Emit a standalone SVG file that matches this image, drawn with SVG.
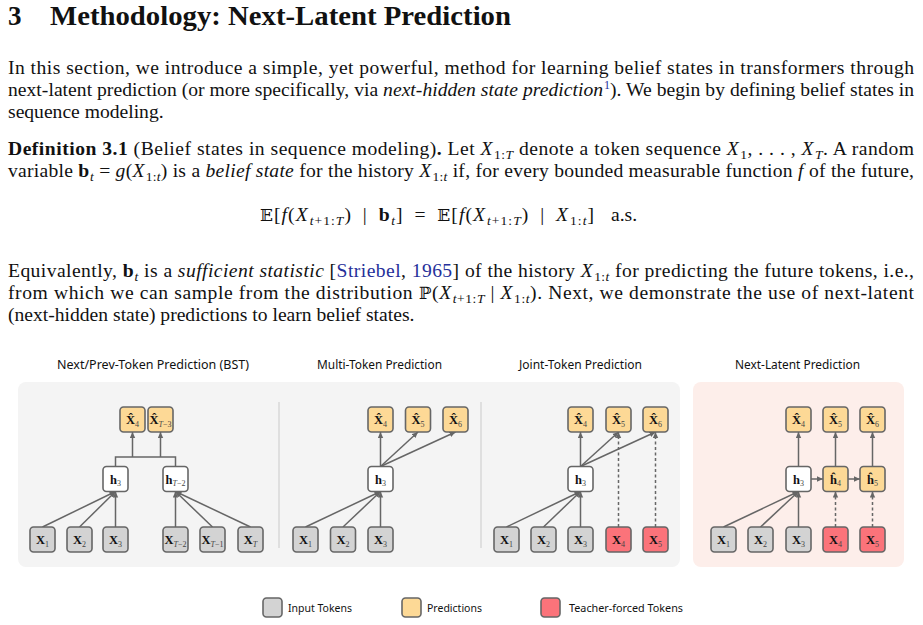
<svg xmlns="http://www.w3.org/2000/svg" width="923" height="625" viewBox="0 0 923 625">
<defs>
<marker id="ah" viewBox="0 0 10 10" refX="10" refY="5" markerWidth="6" markerHeight="6" markerUnits="userSpaceOnUse" orient="auto"><path d="M0,0.5 L10,5 L0,9.5 z" fill="#666"/></marker>
<style>
.body{font-family:"Liberation Serif","Times New Roman",serif;font-size:19.6px;fill:#111}
.head{font-family:"Liberation Serif","Times New Roman",serif;font-size:27px;font-weight:bold;fill:#111}
.it{font-style:italic}
.bf{font-weight:bold}
.cite{fill:#25309a}
.ttl{font-family:"Noto Sans","DejaVu Sans",sans-serif;font-size:12px;fill:#111;text-anchor:middle}
.lg{font-family:"Noto Sans","DejaVu Sans",sans-serif;font-size:11.5px;fill:#111}
.nd{stroke:#666;stroke-width:1.6}
.in{fill:#d3d3d3}
.pr{fill:#fdd996}
.tf{fill:#fb737a}
.hn{fill:#ffffff}
.lb{font-family:"Liberation Serif","Times New Roman",serif;font-size:12.5px;font-weight:bold;fill:#111;text-anchor:middle}
.sb{font-size:8px;font-weight:normal;fill:#444}
.ar{stroke:#666;stroke-width:1.5;fill:none;marker-end:url(#ah)}
.ln{stroke:#666;stroke-width:1.5;fill:none}
.da{stroke-dasharray:3,2.5}
.bb{font-family:"DejaVu Serif","DejaVu Sans",serif;font-size:17px}
</style>
</defs>

<!-- Heading and text -->
<g id="text">
<text class="head" x="8" y="25">3</text>
<text class="head" x="50" y="25" textLength="461" lengthAdjust="spacingAndGlyphs">Methodology: Next-Latent Prediction</text>

<text class="body" x="8" y="74" textLength="906" lengthAdjust="spacing">In this section, we introduce a simple, yet powerful, method for learning belief states in transformers through</text>
<text class="body" x="8" y="96" textLength="906" lengthAdjust="spacing">next-latent prediction (or more specifically, via <tspan class="it">next-hidden state prediction</tspan><tspan class="cite" font-size="12" dx="1" dy="-7">1</tspan><tspan dy="7">). We begin by defining belief states in</tspan></text>
<text class="body" x="8" y="118">sequence modeling.</text>

<text class="body" x="8" y="155" textLength="906" lengthAdjust="spacing"><tspan class="bf">Definition 3.1</tspan> (Belief states in sequence modeling)<tspan class="bf">.</tspan> Let <tspan class="it">X</tspan><tspan font-size="13.5" dx="1" dy="4">1:<tspan class="it">T</tspan></tspan><tspan dy="-4"> denote a token sequence </tspan><tspan class="it">X</tspan><tspan font-size="13.5" dx="1" dy="4">1</tspan><tspan dy="-4">, . . . , </tspan><tspan class="it">X</tspan><tspan class="it" font-size="13.5" dx="1" dy="4">T</tspan><tspan dy="-4">. A random</tspan></text>
<text class="body" x="8" y="177" textLength="906" lengthAdjust="spacing">variable <tspan class="bf">b</tspan><tspan class="it" font-size="13.5" dx="0.5" dy="4">t</tspan><tspan dy="-4"> = </tspan><tspan class="it">g</tspan>(<tspan class="it">X</tspan><tspan font-size="13.5" dx="1" dy="4">1:<tspan class="it">t</tspan></tspan><tspan dy="-4">) is a </tspan><tspan class="it">belief state</tspan> for the history <tspan class="it">X</tspan><tspan font-size="13.5" dx="1" dy="4">1:<tspan class="it">t</tspan></tspan><tspan dy="-4"> if, for every bounded measurable function </tspan><tspan class="it">f</tspan> of the future,</text>

<text class="body" x="260" y="221" textLength="334" lengthAdjust="spacing"><tspan class="bb">𝔼</tspan>[<tspan class="it">f</tspan>(<tspan class="it">X</tspan><tspan font-size="13.5" dx="1" dy="4"><tspan class="it">t</tspan>+1:<tspan class="it">T</tspan></tspan><tspan dy="-4">)&#8194;|&#8194;</tspan><tspan class="bf">b</tspan><tspan class="it" font-size="13.5" dx="0.5" dy="4">t</tspan><tspan dy="-4">]&#8194;=&#8194;</tspan><tspan class="bb">𝔼</tspan>[<tspan class="it">f</tspan>(<tspan class="it">X</tspan><tspan font-size="13.5" dx="1" dy="4"><tspan class="it">t</tspan>+1:<tspan class="it">T</tspan></tspan><tspan dy="-4">)&#8194;|&#8194;</tspan><tspan class="it">X</tspan><tspan font-size="13.5" dx="1" dy="4">1:<tspan class="it">t</tspan></tspan><tspan dy="-4">]</tspan></text>
<text class="body" x="611" y="221">a.s.</text>

<text class="body" x="8" y="277" textLength="906" lengthAdjust="spacing">Equivalently, <tspan class="bf">b</tspan><tspan class="it" font-size="13.5" dx="0.5" dy="4">t</tspan><tspan dy="-4"> is a </tspan><tspan class="it">sufficient statistic</tspan> [<tspan class="cite">Striebel</tspan>, <tspan class="cite">1965</tspan>] of the history <tspan class="it">X</tspan><tspan font-size="13.5" dx="1" dy="4">1:<tspan class="it">t</tspan></tspan><tspan dy="-4"> for predicting the future tokens, i.e.,</tspan></text>
<text class="body" x="8" y="299" textLength="906" lengthAdjust="spacing">from which we can sample from the distribution <tspan class="bb">ℙ</tspan>(<tspan class="it">X</tspan><tspan font-size="13.5" dx="1" dy="4"><tspan class="it">t</tspan>+1:<tspan class="it">T</tspan></tspan><tspan dy="-4"> | </tspan><tspan class="it">X</tspan><tspan font-size="13.5" dx="1" dy="4">1:<tspan class="it">t</tspan></tspan><tspan dy="-4">). Next, we demonstrate the use of next-latent</tspan></text>
<text class="body" x="8" y="321">(next-hidden state) predictions to learn belief states.</text>
</g>

<!-- Panels -->
<g id="panels">
<rect x="18" y="382" width="662" height="185" rx="8" fill="#f4f4f4"/>
<rect x="693" y="382" width="211" height="185" rx="8" fill="#fdeeea"/>
<line x1="279" y1="402" x2="279" y2="548" stroke="#d9d9d9" stroke-width="1.5"/>
<line x1="481" y1="402" x2="481" y2="548" stroke="#d9d9d9" stroke-width="1.5"/>
<text class="ttl" x="153" y="369" textLength="192" lengthAdjust="spacingAndGlyphs">Next/Prev-Token Prediction (BST)</text>
<text class="ttl" x="379.5" y="369" textLength="125" lengthAdjust="spacingAndGlyphs">Multi-Token Prediction</text>
<text class="ttl" x="580.5" y="369" textLength="123" lengthAdjust="spacingAndGlyphs">Joint-Token Prediction</text>
<text class="ttl" x="797.5" y="369" textLength="125" lengthAdjust="spacingAndGlyphs">Next-Latent Prediction</text>
</g>

<!-- Connectors -->
<g id="connectors">
<line class="ar" x1="42.5" y1="527" x2="115.5" y2="491.5"/>
<line class="ar" x1="79.5" y1="527" x2="115.5" y2="491.5"/>
<line class="ar" x1="115.5" y1="527" x2="115.5" y2="491.5"/>
<line class="ar" x1="175.5" y1="527" x2="175.5" y2="491.5"/>
<line class="ar" x1="212.5" y1="527" x2="175.5" y2="491.5"/>
<line class="ar" x1="250.5" y1="527" x2="175.5" y2="491.5"/>
<polyline class="ln" points="115.5,466.5 115.5,457 175.5,457 175.5,466.5"/>
<line class="ar" x1="132.5" y1="457" x2="132.5" y2="432"/>
<line class="ar" x1="160.5" y1="457" x2="160.5" y2="432"/>

<line class="ar" x1="305.5" y1="527" x2="380.5" y2="491.5"/>
<line class="ar" x1="343" y1="527" x2="380.5" y2="491.5"/>
<line class="ar" x1="380.5" y1="527" x2="380.5" y2="491.5"/>
<line class="ar" x1="380.5" y1="466.5" x2="380.5" y2="432"/>
<line class="ar" x1="380.5" y1="466.5" x2="418" y2="432"/>
<line class="ar" x1="380.5" y1="466.5" x2="455.5" y2="432"/>

<line class="ar" x1="506.5" y1="527" x2="580.5" y2="491.5"/>
<line class="ar" x1="543.5" y1="527" x2="580.5" y2="491.5"/>
<line class="ar" x1="580.5" y1="527" x2="580.5" y2="491.5"/>
<line class="ar" x1="580.5" y1="466.5" x2="580.5" y2="432"/>
<line class="ar" x1="580.5" y1="466.5" x2="618.5" y2="432"/>
<line class="ar" x1="580.5" y1="466.5" x2="655.5" y2="432"/>
<line class="ar da" x1="618.5" y1="527" x2="618.5" y2="432"/>
<line class="ar da" x1="655.5" y1="527" x2="655.5" y2="432"/>

<line class="ar" x1="723.5" y1="527" x2="798.5" y2="491.5"/>
<line class="ar" x1="760.5" y1="527" x2="798.5" y2="491.5"/>
<line class="ar" x1="798.5" y1="527" x2="798.5" y2="491.5"/>
<line class="ar" x1="798.5" y1="466.5" x2="798.5" y2="432"/>
<line class="ar" x1="835.5" y1="466.5" x2="835.5" y2="432"/>
<line class="ar" x1="872.5" y1="466.5" x2="872.5" y2="432"/>
<line class="ar" x1="811" y1="479" x2="823" y2="479"/>
<line class="ar" x1="848" y1="479" x2="860" y2="479"/>
<line class="ar da" x1="835.5" y1="527" x2="835.5" y2="491.5"/>
<line class="ar da" x1="872.5" y1="527" x2="872.5" y2="491.5"/>
</g>

<!-- Panel 1 nodes -->
<g id="p1-xh4"><rect class="nd pr" x="120" y="407" width="25" height="25" rx="3.5"/><text class="lb" x="132.5" y="424">X&#x302;<tspan class="sb" dy="2.5">4</tspan></text></g>
<g id="p1-xhT3"><rect class="nd pr" x="148" y="407" width="25" height="25" rx="3.5"/><text class="lb" x="160.5" y="424">X&#x302;<tspan class="sb it" dy="2.5">T</tspan><tspan class="sb">−3</tspan></text></g>
<g id="p1-h3"><rect class="nd hn" x="103" y="466.5" width="25" height="25" rx="3.5"/><text class="lb" x="115.5" y="483.5">h<tspan class="sb" dy="2.5">3</tspan></text></g>
<g id="p1-hT2"><rect class="nd hn" x="163" y="466.5" width="25" height="25" rx="3.5"/><text class="lb" x="175.5" y="483.5">h<tspan class="sb it" dy="2.5">T</tspan><tspan class="sb">−2</tspan></text></g>
<g id="p1-x1"><rect class="nd in" x="30" y="527" width="25" height="25" rx="3.5"/><text class="lb" x="42.5" y="544">X<tspan class="sb" dy="2.5">1</tspan></text></g>
<g id="p1-x2"><rect class="nd in" x="67" y="527" width="25" height="25" rx="3.5"/><text class="lb" x="79.5" y="544">X<tspan class="sb" dy="2.5">2</tspan></text></g>
<g id="p1-x3"><rect class="nd in" x="103" y="527" width="25" height="25" rx="3.5"/><text class="lb" x="115.5" y="544">X<tspan class="sb" dy="2.5">3</tspan></text></g>
<g id="p1-xT2"><rect class="nd in" x="163" y="527" width="25" height="25" rx="3.5"/><text class="lb" x="175.5" y="544">X<tspan class="sb it" dy="2.5">T</tspan><tspan class="sb">−2</tspan></text></g>
<g id="p1-xT1"><rect class="nd in" x="200" y="527" width="25" height="25" rx="3.5"/><text class="lb" x="212.5" y="544">X<tspan class="sb it" dy="2.5">T</tspan><tspan class="sb">−1</tspan></text></g>
<g id="p1-xT"><rect class="nd in" x="238" y="527" width="25" height="25" rx="3.5"/><text class="lb" x="250.5" y="544">X<tspan class="sb it" dy="2.5">T</tspan></text></g>

<!-- Panel 2 nodes -->
<g id="p2-xh4"><rect class="nd pr" x="368" y="407" width="25" height="25" rx="3.5"/><text class="lb" x="380.5" y="424">X&#x302;<tspan class="sb" dy="2.5">4</tspan></text></g>
<g id="p2-xh5"><rect class="nd pr" x="405.5" y="407" width="25" height="25" rx="3.5"/><text class="lb" x="418" y="424">X&#x302;<tspan class="sb" dy="2.5">5</tspan></text></g>
<g id="p2-xh6"><rect class="nd pr" x="443" y="407" width="25" height="25" rx="3.5"/><text class="lb" x="455.5" y="424">X&#x302;<tspan class="sb" dy="2.5">6</tspan></text></g>
<g id="p2-h3"><rect class="nd hn" x="368" y="466.5" width="25" height="25" rx="3.5"/><text class="lb" x="380.5" y="483.5">h<tspan class="sb" dy="2.5">3</tspan></text></g>
<g id="p2-x1"><rect class="nd in" x="293" y="527" width="25" height="25" rx="3.5"/><text class="lb" x="305.5" y="544">X<tspan class="sb" dy="2.5">1</tspan></text></g>
<g id="p2-x2"><rect class="nd in" x="330.5" y="527" width="25" height="25" rx="3.5"/><text class="lb" x="343" y="544">X<tspan class="sb" dy="2.5">2</tspan></text></g>
<g id="p2-x3"><rect class="nd in" x="368" y="527" width="25" height="25" rx="3.5"/><text class="lb" x="380.5" y="544">X<tspan class="sb" dy="2.5">3</tspan></text></g>

<!-- Panel 3 nodes -->
<g id="p3-xh4"><rect class="nd pr" x="568" y="407" width="25" height="25" rx="3.5"/><text class="lb" x="580.5" y="424">X&#x302;<tspan class="sb" dy="2.5">4</tspan></text></g>
<g id="p3-xh5"><rect class="nd pr" x="606" y="407" width="25" height="25" rx="3.5"/><text class="lb" x="618.5" y="424">X&#x302;<tspan class="sb" dy="2.5">5</tspan></text></g>
<g id="p3-xh6"><rect class="nd pr" x="643" y="407" width="25" height="25" rx="3.5"/><text class="lb" x="655.5" y="424">X&#x302;<tspan class="sb" dy="2.5">6</tspan></text></g>
<g id="p3-h3"><rect class="nd hn" x="568" y="466.5" width="25" height="25" rx="3.5"/><text class="lb" x="580.5" y="483.5">h<tspan class="sb" dy="2.5">3</tspan></text></g>
<g id="p3-x1"><rect class="nd in" x="494" y="527" width="25" height="25" rx="3.5"/><text class="lb" x="506.5" y="544">X<tspan class="sb" dy="2.5">1</tspan></text></g>
<g id="p3-x2"><rect class="nd in" x="531" y="527" width="25" height="25" rx="3.5"/><text class="lb" x="543.5" y="544">X<tspan class="sb" dy="2.5">2</tspan></text></g>
<g id="p3-x3"><rect class="nd in" x="568" y="527" width="25" height="25" rx="3.5"/><text class="lb" x="580.5" y="544">X<tspan class="sb" dy="2.5">3</tspan></text></g>
<g id="p3-x4"><rect class="nd tf" x="606" y="527" width="25" height="25" rx="3.5"/><text class="lb" x="618.5" y="544">X<tspan class="sb" dy="2.5">4</tspan></text></g>
<g id="p3-x5"><rect class="nd tf" x="643" y="527" width="25" height="25" rx="3.5"/><text class="lb" x="655.5" y="544">X<tspan class="sb" dy="2.5">5</tspan></text></g>

<!-- Panel 4 nodes -->
<g id="p4-xh4"><rect class="nd pr" x="786" y="407" width="25" height="25" rx="3.5"/><text class="lb" x="798.5" y="424">X&#x302;<tspan class="sb" dy="2.5">4</tspan></text></g>
<g id="p4-xh5"><rect class="nd pr" x="823" y="407" width="25" height="25" rx="3.5"/><text class="lb" x="835.5" y="424">X&#x302;<tspan class="sb" dy="2.5">5</tspan></text></g>
<g id="p4-xh6"><rect class="nd pr" x="860" y="407" width="25" height="25" rx="3.5"/><text class="lb" x="872.5" y="424">X&#x302;<tspan class="sb" dy="2.5">6</tspan></text></g>
<g id="p4-h3"><rect class="nd hn" x="786" y="466.5" width="25" height="25" rx="3.5"/><text class="lb" x="798.5" y="483.5">h<tspan class="sb" dy="2.5">3</tspan></text></g>
<g id="p4-hh4"><rect class="nd pr" x="823" y="466.5" width="25" height="25" rx="3.5"/><text class="lb" x="835.5" y="483.5">ĥ<tspan class="sb" dy="2.5">4</tspan></text></g>
<g id="p4-hh5"><rect class="nd pr" x="860" y="466.5" width="25" height="25" rx="3.5"/><text class="lb" x="872.5" y="483.5">ĥ<tspan class="sb" dy="2.5">5</tspan></text></g>
<g id="p4-x1"><rect class="nd in" x="711" y="527" width="25" height="25" rx="3.5"/><text class="lb" x="723.5" y="544">X<tspan class="sb" dy="2.5">1</tspan></text></g>
<g id="p4-x2"><rect class="nd in" x="748" y="527" width="25" height="25" rx="3.5"/><text class="lb" x="760.5" y="544">X<tspan class="sb" dy="2.5">2</tspan></text></g>
<g id="p4-x3"><rect class="nd in" x="786" y="527" width="25" height="25" rx="3.5"/><text class="lb" x="798.5" y="544">X<tspan class="sb" dy="2.5">3</tspan></text></g>
<g id="p4-x4"><rect class="nd tf" x="823" y="527" width="25" height="25" rx="3.5"/><text class="lb" x="835.5" y="544">X<tspan class="sb" dy="2.5">4</tspan></text></g>
<g id="p4-x5"><rect class="nd tf" x="860" y="527" width="25" height="25" rx="3.5"/><text class="lb" x="872.5" y="544">X<tspan class="sb" dy="2.5">5</tspan></text></g>

<!-- Legend -->
<g id="legend">
<rect class="nd in" x="263" y="598" width="19" height="19" rx="3.5"/>
<text class="lg" x="288" y="612" textLength="64" lengthAdjust="spacingAndGlyphs">Input Tokens</text>
<rect class="nd pr" x="402" y="598" width="19" height="19" rx="3.5"/>
<text class="lg" x="427" y="612" textLength="55" lengthAdjust="spacingAndGlyphs">Predictions</text>
<rect class="nd tf" x="541" y="598" width="19" height="19" rx="3.5"/>
<text class="lg" x="569" y="612" textLength="114" lengthAdjust="spacingAndGlyphs">Teacher-forced Tokens</text>
</g>
</svg>
